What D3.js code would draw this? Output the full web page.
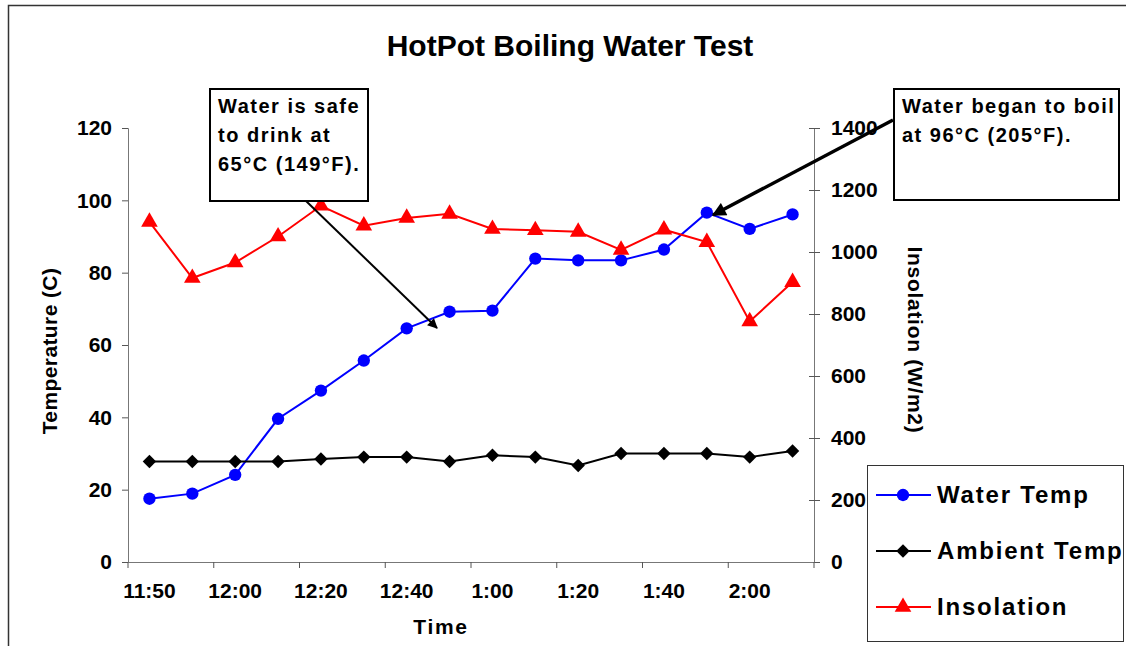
<!DOCTYPE html>
<meta charset="utf-8" />
<title>HotPot Boiling Water Test</title>
<script src="https://d3js.org/d3.v7.min.js"></script>
<style>
  body { margin: 0; background: #fff; }
  svg text { font-family: "Liberation Sans", Arial, sans-serif; font-weight: bold; }
</style>
<body>
<svg id="chart" width="1126" height="646"></svg>
<script>
  // Data
  var times = ['11:50', '11:55', '12:00', '12:10', '12:20', '12:30', '12:40', '12:50',
               '1:00', '1:10', '1:20', '1:30', '1:40', '1:50', '2:00', '2:10'];
  var waterTemp   = [17.5, 18.9, 24.1, 39.6, 47.4, 55.7, 64.6, 69.2,
                     69.5, 83.9, 83.4, 83.4, 86.4, 96.6, 92.1, 96.1];
  var ambientTemp = [27.8, 27.8, 27.8, 27.8, 28.5, 29.0, 29.0, 27.8,
                     29.5, 29.0, 26.7, 30.0, 30.0, 30.0, 29.0, 30.7];
  var insolation  = [1097, 916, 966, 1050, 1149, 1085, 1110, 1123,
                     1074, 1070, 1065, 1007, 1072, 1032, 776, 903];
  var tempTicks   = [0, 20, 40, 60, 80, 100, 120];
  var insolTicks  = [0, 200, 400, 600, 800, 1000, 1200, 1400];

  var svg = d3.select('#chart');

  // outer chart frame
  svg.append('rect')
    .attr('x', 8.5).attr('y', 5.5)
    .attr('width', 1200).attr('height', 700)
    .attr('fill', 'none').attr('stroke', '#333').attr('stroke-width', 1.5);

  // plot area edges (named to avoid window.top)
  var plotL = 128, plotR = 814, plotT = 128, plotB = 562;

  var x  = d3.scaleBand().domain(times).range([plotL, plotR]);
  var yT = d3.scaleLinear().domain([0, 120]).range([plotB, plotT]);
  var yI = d3.scaleLinear().domain([0, 1400]).range([plotB, plotT]);
  var cx = function(i) { return x(times[i]) + x.bandwidth() / 2; };

  // title
  svg.append('text')
    .attr('x', 570).attr('y', 56)
    .attr('text-anchor', 'middle')
    .style('font-size', '30px')
    .text('HotPot Boiling Water Test');

  // left axis
  var gL = svg.append('g')
    .attr('transform', 'translate(' + plotL + ',0)')
    .call(d3.axisLeft(yT).tickValues(tempTicks).tickSize(6).tickPadding(10));
  // right axis, ticks cross the line
  var gR = svg.append('g')
    .attr('transform', 'translate(' + plotR + ',0)')
    .call(d3.axisRight(yI).tickValues(insolTicks).tickFormat(d3.format('d'))
      .tickSize(6).tickPadding(11));
  gR.selectAll('.tick line').attr('x1', -5);
  // bottom axis: labels on every other category, ticks at band edges
  var labelled = times.filter(function(d, i) { return i % 2 == 0; });
  var gB = svg.append('g')
    .attr('transform', 'translate(0,' + plotB + ')')
    .call(d3.axisBottom(x).tickValues(labelled).tickSize(0).tickPadding(21));
  labelled.concat([null]).forEach(function(d) {
    var xx = d == null ? plotR : x(d);
    gB.append('line')
      .attr('x1', xx).attr('x2', xx).attr('y1', 0).attr('y2', 6)
      .attr('stroke', '#555');
  });

  [gL, gR, gB].forEach(function(g) {
    g.select('.domain').attr('stroke', '#777');
    g.selectAll('.tick line').attr('stroke', '#555');
    g.selectAll('text').attr('fill', '#000').style('font-size', '21px')
      .style('font-family', '"Liberation Sans", Arial, sans-serif').style('font-weight', 'bold');
  });

  // axis titles
  svg.append('text')
    .attr('transform', 'translate(57,351) rotate(-90)')
    .attr('text-anchor', 'middle')
    .style('font-size', '21px')
    .style('letter-spacing', '0.4px')
    .text('Temperature (C)');
  svg.append('text')
    .attr('transform', 'translate(908,340) rotate(90)')
    .attr('text-anchor', 'middle')
    .style('font-size', '21px')
    .style('letter-spacing', '0.7px')
    .text('Insolation (W/m2)');
  svg.append('text')
    .attr('x', 441).attr('y', 634)
    .attr('text-anchor', 'middle')
    .style('font-size', '21px')
    .style('letter-spacing', '1.7px')
    .text('Time');

  // series (diamond = square turned 45 degrees)
  var series = [
    { name: 'Water Temp',   vals: waterTemp,   y: yT, color: '#0000ff', shape: d3.symbolCircle,   size: 120, rot: 0 },
    { name: 'Ambient Temp', vals: ambientTemp, y: yT, color: '#000000', shape: d3.symbolSquare,   size: 90,  rot: 45 },
    { name: 'Insolation',   vals: insolation,  y: yI, color: '#ff0000', shape: d3.symbolTriangle, size: 120, rot: 0 }
  ];

  series.forEach(function(s) {
    var line = d3.line()
      .x(function(d, i) { return cx(i); })
      .y(function(d) { return s.y(d); });
    svg.append('path')
      .datum(s.vals)
      .attr('d', line)
      .attr('fill', 'none')
      .attr('stroke', s.color)
      .attr('stroke-width', 2);
    svg.selectAll(null)
      .data(s.vals)
      .enter().append('path')
      .attr('d', d3.symbol().type(s.shape).size(s.size))
      .attr('transform', function(d, i) {
        return 'translate(' + cx(i) + ',' + s.y(d) + ') rotate(' + s.rot + ')';
      })
      .attr('fill', s.color);
  });

  // annotations
  var defs = svg.append('defs');
  defs.append('marker')
    .attr('id', 'arrow').attr('viewBox', '0 0 10 10')
    .attr('refX', 9).attr('refY', 5)
    .attr('markerWidth', 12).attr('markerHeight', 10)
    .attr('markerUnits', 'userSpaceOnUse')
    .attr('orient', 'auto')
    .append('path').attr('d', 'M0,0 L10,5 L0,10 Z').attr('fill', '#000');
  defs.append('marker')
    .attr('id', 'arrow2').attr('viewBox', '0 0 10 10')
    .attr('refX', 9).attr('refY', 5)
    .attr('markerWidth', 16).attr('markerHeight', 14)
    .attr('markerUnits', 'userSpaceOnUse')
    .attr('orient', 'auto')
    .append('path').attr('d', 'M0,0 L10,5 L0,10 Z').attr('fill', '#000');

  // arrow 1: safe to drink
  svg.append('line')
    .attr('x1', 305).attr('y1', 200).attr('x2', 437).attr('y2', 328)
    .attr('stroke', '#000').attr('stroke-width', 2)
    .attr('marker-end', 'url(#arrow)');
  // arrow 2: began to boil
  svg.append('line')
    .attr('x1', 893).attr('y1', 120).attr('x2', 713).attr('y2', 215)
    .attr('stroke', '#000').attr('stroke-width', 3.5)
    .attr('marker-end', 'url(#arrow2)');

  var notes = [
    { x: 210, y: 89, w: 158, h: 112, lines: ['Water is safe', 'to drink at', '65\u00B0C (149\u00B0F).'] },
    { x: 894, y: 89, w: 225, h: 111, lines: ['Water began to boil', 'at 96\u00B0C (205\u00B0F).'] }
  ];
  notes.forEach(function(n) {
    svg.append('rect')
      .attr('x', n.x).attr('y', n.y).attr('width', n.w).attr('height', n.h)
      .attr('fill', '#fff').attr('stroke', '#000').attr('stroke-width', 2);
    n.lines.forEach(function(t, i) {
      svg.append('text')
        .attr('x', n.x + 8).attr('y', n.y + 24 + i * 29)
        .style('font-size', '20px')
        .style('letter-spacing', '1.5px')
        .text(t);
    });
  });

  // legend
  var lg = svg.append('g').attr('transform', 'translate(867,465)');
  lg.append('rect')
    .attr('x', 0.5).attr('y', 0.5).attr('width', 256).attr('height', 176)
    .attr('fill', '#fff').attr('stroke', '#333').attr('stroke-width', 1);
  series.forEach(function(s, i) {
    var yy = 30 + i * 56;
    lg.append('line')
      .attr('x1', 9).attr('x2', 64).attr('y1', yy).attr('y2', yy)
      .attr('stroke', s.color).attr('stroke-width', 2);
    lg.append('path')
      .attr('d', d3.symbol().type(s.shape).size(s.size))
      .attr('transform', 'translate(36,' + yy + ') rotate(' + s.rot + ')')
      .attr('fill', s.color);
    lg.append('text')
      .attr('x', 70).attr('y', yy + 8)
      .style('font-size', '24px')
      .style('letter-spacing', '1.8px')
      .text(s.name);
  });
</script>
</body>
